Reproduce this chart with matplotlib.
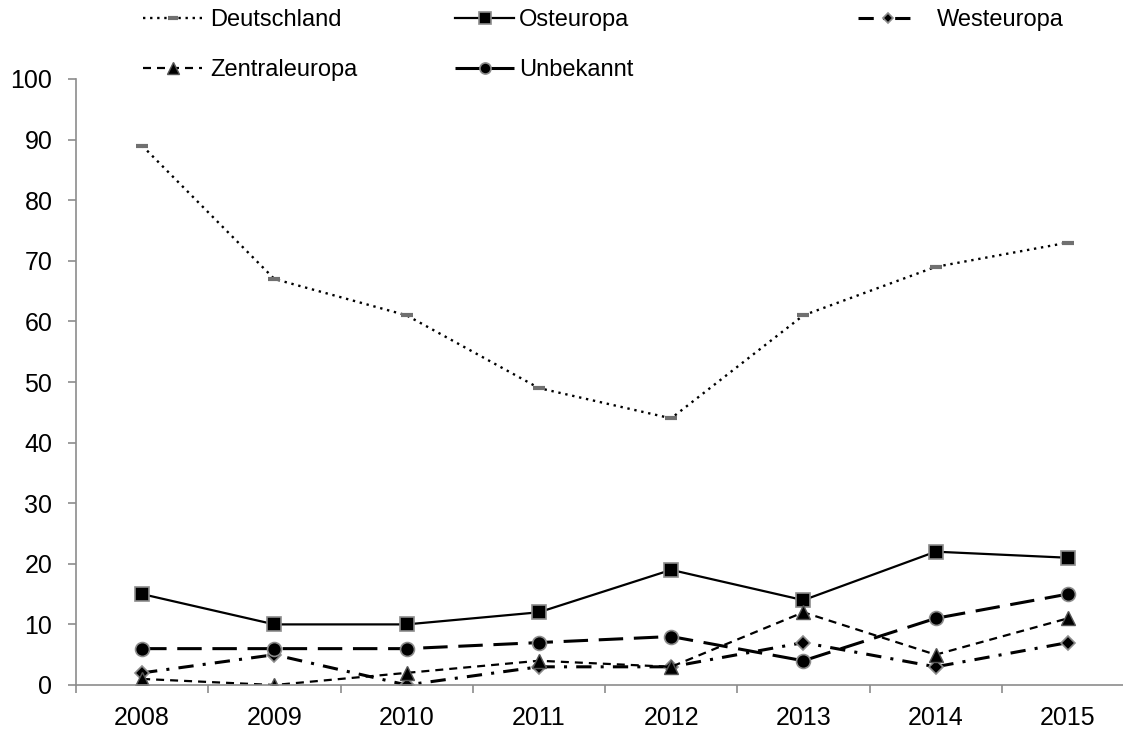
import numpy as np
import matplotlib.pyplot as plt

plt.rcParams['font.family'] = ['Liberation Sans', 'DejaVu Sans']

years = ['2008', '2009', '2010', '2011', '2012', '2013', '2014', '2015']
deutschland = [89, 67, 61, 49, 44, 61, 69, 73]
osteuropa = [15, 10, 10, 12, 19, 14, 22, 21]
westeuropa = [2, 5, 0, 3, 3, 7, 3, 7]
zentraleuropa = [1, 0, 2, 4, 3, 12, 5, 11]
unbekannt = [6, 6, 6, 7, 8, 4, 11, 15]

W, H = 1123, 729
fig = plt.figure(figsize=(W / 100, H / 100), dpi=100)
# axes runs a bit past the right edge, like the cropped original
ax = fig.add_axes([76 / W, 1 - 685 / H, 1058 / W, 606 / H])

x = np.arange(len(years))
grey = '#8c8c8c'

l_de, = ax.plot(x, deutschland, color='black', linestyle=(0, (1, 2)), linewidth=1.7,
                marker='_', markersize=9, markeredgewidth=3, markeredgecolor='#707070',
                label='Deutschland')
l_os, = ax.plot(x, osteuropa, color='black', linestyle='-', linewidth=1.6,
                marker='s', markersize=10, markerfacecolor='black', markeredgecolor=grey,
                markeredgewidth=1.2, label='Osteuropa')
l_we, = ax.plot(x, westeuropa, color='black', linestyle=(0, (5, 3, 1, 3)), linewidth=2.2,
                marker='D', markersize=7, markerfacecolor='black', markeredgecolor=grey,
                markeredgewidth=1.2, label='Westeuropa')
l_ze, = ax.plot(x, zentraleuropa, color='black', linestyle=(0, (3.6, 2.7)), linewidth=1.6,
                marker='^', markersize=10, markerfacecolor='black', markeredgecolor='#555555',
                markeredgewidth=1.0, label='Zentraleuropa')
l_un, = ax.plot(x, unbekannt, color='black', linestyle=(0, (8, 3.5)), linewidth=2.2,
                marker='o', markersize=10, markerfacecolor='black', markeredgecolor=grey,
                markeredgewidth=1.2, label='Unbekannt')

ax.set_xlim(-0.5, len(years) - 0.5)
ax.set_ylim(0, 100)
ax.set_yticks(range(0, 101, 10))
ax.set_xticks(x)
ax.set_xticklabels(years)
ax.set_xticks(np.arange(-0.5, len(years), 1), minor=True)
ax.tick_params(axis='x', which='major', length=0, pad=15, labelsize=18)
ax.tick_params(axis='x', which='minor', length=6, color=grey, width=1.2)
ax.tick_params(axis='y', length=6, color=grey, width=1.2, labelsize=18, pad=11)

for side in ['top', 'right']:
    ax.spines[side].set_visible(False)
for side in ['left', 'bottom']:
    ax.spines[side].set_color(grey)
    ax.spines[side].set_linewidth(1.2)
ax.patch.set_alpha(0)

# Excel-style legend: three columns placed by hand
cols = [([l_de, l_ze], 143, 0.35), ([l_os, l_un], 455, 0.2), ([l_we], 858, 0.85)]
for hs, xpos, pad in cols:
    leg = fig.legend(hs, [h.get_label() for h in hs], loc='upper left',
                     bbox_to_anchor=(xpos / W, 1 - 9 / H), frameon=False, fontsize=17,
                     handlelength=2.5, handletextpad=pad, labelspacing=1.2,
                     borderpad=0, borderaxespad=0, markerscale=0.8)

fig.savefig('out.png', dpi=100)
